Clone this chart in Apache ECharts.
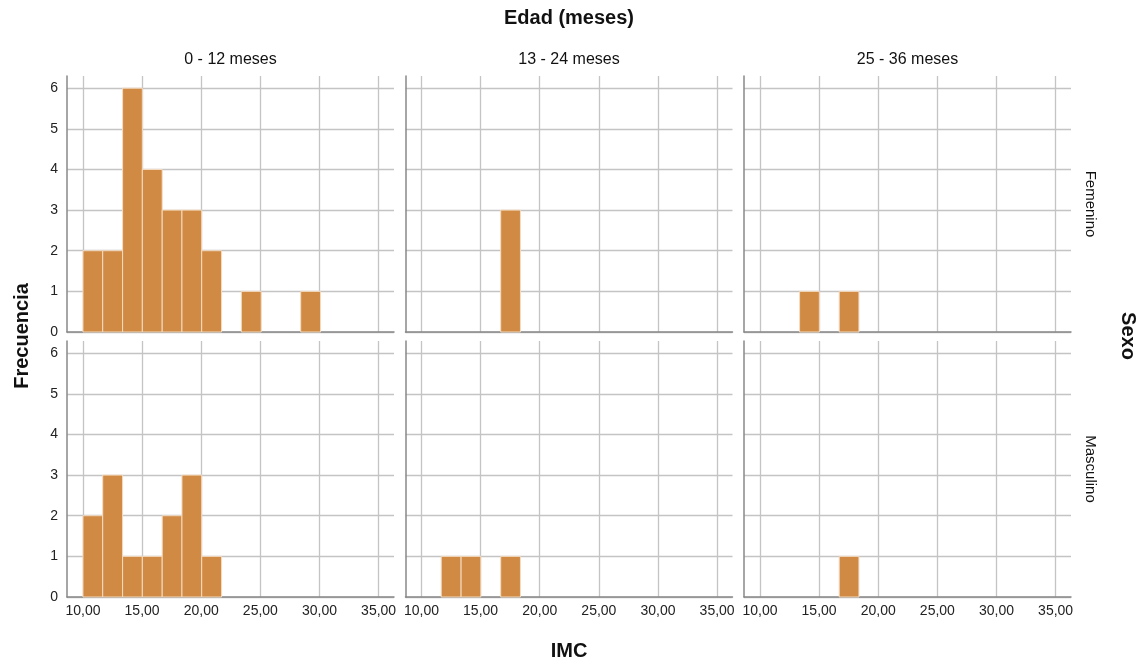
<!DOCTYPE html>
<html>
<head>
<meta charset="utf-8">
<script src="https://cdn.jsdelivr.net/npm/echarts@6/dist/echarts.min.js"></script>
<style>
html,body{margin:0;padding:0;background:#fff;}
#chart{width:1143px;height:663px;}
</style>
</head>
<body>
<div id="chart"></div>
<script>
// ---- data ----
const ageGroups = ['0 - 12 meses', '13 - 24 meses', '25 - 36 meses'];
const sexes = ['Femenino', 'Masculino'];
const binEdges = [10.00, 11.67, 13.35, 15.02, 16.70, 18.37, 20.04, 21.72, 23.39, 25.07, 26.74, 28.41, 30.09];
const femenino_0_12  = [2, 2, 6, 4, 3, 3, 2, 0, 1, 0, 0, 1];
const femenino_13_24 = [0, 0, 0, 0, 3];
const femenino_25_36 = [0, 0, 1, 0, 1];
const masculino_0_12  = [2, 3, 1, 1, 2, 3, 1];
const masculino_13_24 = [0, 1, 1, 0, 1];
const masculino_25_36 = [0, 0, 0, 0, 1];
const xTicks = [10, 15, 20, 25, 30, 35];

const panelCounts = [
  [femenino_0_12, femenino_13_24, femenino_25_36],
  [masculino_0_12, masculino_13_24, masculino_25_36]
];

// ---- layout ----
const FONT = '"Liberation Sans", Arial, sans-serif';
const lefts = [67, 405.5, 744];
const tops = [76, 341];
const W = 327, H = 256;
const BAR = '#D08A43';
const GRID = '#c4c4c4';
const AXIS = '#888888';

const grids = [], xAxes = [], yAxes = [], series = [];
let idx = 0;
for (let r = 0; r < 2; r++) {
  for (let c = 0; c < 3; c++) {
    grids.push({left: lefts[c], top: tops[r], width: W, height: H, containLabel: false});
    xAxes.push({
      type: 'value', gridIndex: idx, min: 8.65, max: 36.3,
      axisLine: {show: true, onZero: false, lineStyle: {color: AXIS, width: 1.5}},
      axisTick: {show: false, customValues: xTicks},
      axisLabel: {
        show: r === 1, customValues: xTicks, margin: 7,
        color: '#222', fontSize: 14, fontFamily: FONT,
        formatter: v => v.toFixed(2).replace('.', ',')
      },
      splitLine: {show: true, lineStyle: {color: GRID, width: 1.3}}
    });
    yAxes.push({
      type: 'value', gridIndex: idx, min: 0, max: 6.3, interval: 1,
      axisLine: {show: true, lineStyle: {color: AXIS, width: 1.5}},
      axisTick: {show: false},
      axisLabel: {
        show: c === 0, margin: 9, color: '#222', fontSize: 14, fontFamily: FONT,
        showMaxLabel: false,
        formatter: v => (Number.isInteger(v) ? String(v) : '')
      },
      splitLine: {show: true, showMaxLine: false, lineStyle: {color: GRID, width: 1.3}}
    });
    const counts = panelCounts[r][c];
    const data = [];
    counts.forEach((n, i) => { if (n > 0) data.push([binEdges[i], binEdges[i + 1], n]); });
    series.push({
      type: 'custom', xAxisIndex: idx, yAxisIndex: idx, data: data,
      encode: {x: [0, 1], y: 2},
      renderItem: function (params, api) {
        const p0 = api.coord([api.value(0), 0]);
        const p1 = api.coord([api.value(1), api.value(2)]);
        return {
          type: 'rect',
          shape: {x: p0[0], y: p1[1], width: p1[0] - p0[0], height: p0[1] - p1[1]},
          style: {fill: BAR, stroke: '#f4dcc2', lineWidth: 1}
        };
      }
    });
    idx++;
  }
}

const graphics = [];
function txt(x, y, text, size, bold, rot) {
  graphics.push({
    type: 'text', x: x, y: y, rotation: rot || 0,
    style: {text: text, fill: '#111', font: (bold ? 'bold ' : '') + size + 'px ' + FONT,
            align: 'center', verticalAlign: 'middle'}
  });
}
txt(569, 18, 'Edad (meses)', 20, true);
for (let c = 0; c < 3; c++) txt(lefts[c] + W / 2, 60, ageGroups[c], 16, false);
txt(22, 336, 'Frecuencia', 20, true, Math.PI / 2);
txt(1128, 336, 'Sexo', 20, true, -Math.PI / 2);
for (let r = 0; r < 2; r++) txt(1090, tops[r] + H / 2, sexes[r], 15, false, -Math.PI / 2);
txt(569, 651, 'IMC', 20, true);

const chart = echarts.init(document.getElementById('chart'), null, {renderer: 'canvas'});
chart.setOption({
  animation: false,
  backgroundColor: '#fff',
  grid: grids, xAxis: xAxes, yAxis: yAxes, series: series,
  graphic: graphics
});
</script>
</body>
</html>
